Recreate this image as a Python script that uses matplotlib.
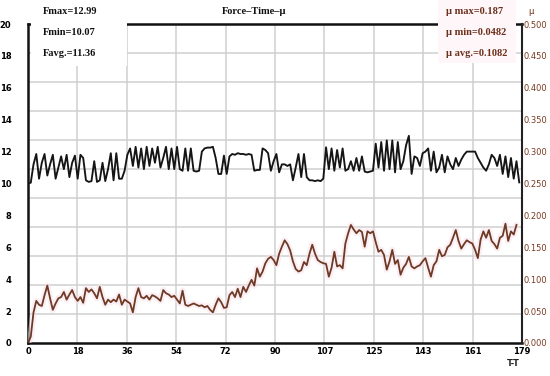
import matplotlib
matplotlib.use('Agg')
import matplotlib.pyplot as plt
from matplotlib.patches import Rectangle
import numpy as np

# ---------------- data ----------------
force = [
    10.0, 10.05, 11.2, 11.85, 10.3, 11.3, 11.85, 10.5, 11.2, 11.8,
    10.3, 11.0, 11.7, 10.9, 11.8, 10.4, 11.3, 11.75, 10.3, 11.8,
    11.6, 10.2, 10.1, 10.15, 11.4, 10.1, 10.2, 11.3, 10.15, 10.9,
    11.9, 10.2, 11.9, 10.3, 10.3, 10.8, 11.8, 12.2, 11.1, 12.3,
    11.0, 12.2, 10.9, 12.3, 11.1, 12.2, 11.3, 12.3, 11.0, 11.6,
    12.3, 10.9, 12.2, 10.9, 12.3, 10.9, 10.8, 12.2, 10.8, 12.2,
    10.8, 10.75, 10.8, 12.0, 12.2, 12.25, 12.25, 12.3, 11.6, 10.6,
    10.6, 11.75, 10.6, 11.7, 11.85, 11.8, 11.9, 11.85, 11.85, 11.8,
    11.85, 11.8, 10.8, 10.85, 10.85, 12.2, 12.1, 11.9, 10.8, 11.4,
    11.85, 10.7, 11.2, 11.2, 11.1, 11.2, 10.2, 11.0, 11.85, 10.4,
    11.85, 10.4, 10.2, 10.2, 10.15, 10.2, 10.15, 10.3, 12.27, 10.9,
    12.2, 10.8, 12.1, 11.0, 12.2, 10.8, 10.9, 11.4, 10.8, 11.6,
    10.8, 11.7, 10.75, 10.7, 10.75, 10.8, 12.5, 11.0, 12.6, 10.8,
    12.7, 10.9, 12.7, 10.7, 12.6, 10.9, 11.4, 12.4, 12.99, 10.6,
    11.7, 11.6, 11.1, 11.9, 12.0, 12.2, 10.8, 12.0, 10.7, 11.0,
    11.8, 10.7, 11.7, 11.2, 10.9, 11.6, 11.1, 11.5, 11.8, 12.0,
    12.0, 12.0, 12.0, 11.6, 11.3, 11.0, 10.8, 11.2, 11.8, 11.6,
    11.1, 11.8, 10.6, 11.7, 10.4, 11.6, 10.3, 11.4, 10.07,
]
force_time = list(range(len(force)))

mu = [
    0.000, 0.010, 0.048, 0.066, 0.060, 0.058, 0.075, 0.090, 0.070, 0.052,
    0.062, 0.070, 0.072, 0.080, 0.068, 0.076, 0.083, 0.072, 0.066, 0.072,
    0.063, 0.086, 0.080, 0.084, 0.078, 0.070, 0.088, 0.072, 0.060, 0.068,
    0.064, 0.068, 0.065, 0.076, 0.060, 0.068, 0.065, 0.062, 0.048, 0.072,
    0.086, 0.072, 0.070, 0.074, 0.068, 0.075, 0.073, 0.070, 0.066, 0.083,
    0.078, 0.076, 0.072, 0.074, 0.068, 0.062, 0.082, 0.060, 0.058, 0.060,
    0.062, 0.060, 0.058, 0.059, 0.056, 0.058, 0.052, 0.048, 0.060, 0.070,
    0.064, 0.055, 0.056, 0.075, 0.080, 0.072, 0.085, 0.072, 0.088, 0.080,
    0.090, 0.099, 0.090, 0.117, 0.104, 0.112, 0.125, 0.132, 0.135, 0.130,
    0.122, 0.140, 0.151, 0.161, 0.155, 0.145, 0.128, 0.116, 0.112, 0.114,
    0.127, 0.122, 0.140, 0.154, 0.140, 0.130, 0.127, 0.125, 0.124, 0.104,
    0.118, 0.143, 0.120, 0.122, 0.117, 0.156, 0.172, 0.185, 0.178, 0.172,
    0.177, 0.174, 0.151, 0.175, 0.172, 0.175, 0.158, 0.143, 0.146, 0.138,
    0.115, 0.128, 0.146, 0.124, 0.130, 0.107, 0.118, 0.124, 0.135, 0.120,
    0.117, 0.120, 0.122, 0.128, 0.133, 0.118, 0.104, 0.122, 0.128, 0.146,
    0.136, 0.138, 0.150, 0.154, 0.165, 0.177, 0.160, 0.148, 0.155, 0.161,
    0.158, 0.156, 0.146, 0.133, 0.162, 0.175, 0.165, 0.177, 0.160, 0.155,
    0.148, 0.165, 0.168, 0.187, 0.160, 0.175, 0.170, 0.185,
]
mu_time = list(range(len(mu)))

x_tick_labels = ['0', '18', '36', '54', '72', '90', '107', '125', '143', '161', '179']
force_ticks = [0, 2, 4, 6, 8, 10, 12, 14, 16, 18, 20]
mu_ticks = [0.0, 0.05, 0.10, 0.15, 0.20, 0.25, 0.30, 0.35, 0.40, 0.45, 0.50]
mu_tick_labels = ['0.000', '0.050', '0.100', '0.150', '0.200', '0.250',
                  '0.300', '0.350', '0.400', '0.450', '0.500']
force_stats = ['Fmax=12.99', 'Fmin=10.07', 'Favg.=11.36']
mu_stats = ['\u03bc max=0.187', '\u03bc min=0.0482', '\u03bc avg.=0.1082']
title = 'Force\u2013Time\u2013\u03bc'
x_label = 'T-T'

# ---------------- figure ----------------
W, H = 550, 376
fig = plt.figure(figsize=(W / 100, H / 100), dpi=100)
fig.patch.set_facecolor('white')

def fx(px):
    return px / W

def fy(py):
    return 1 - py / H

L, R, T, B = 28, 522, 24, 343
ax = fig.add_axes([fx(L), fy(B), (R - L) / W, (B - T) / H])
ax.set_xlim(0, 179)
ax.set_ylim(0, 20)

grid_c = '#cfcfcf'
ax.set_xticks(np.linspace(0, 179, 11))
ax.set_xticklabels(x_tick_labels)
ax.set_yticks(force_ticks)
ax.set_yticks(np.linspace(0, 20, 12), minor=True)
ax.grid(axis='x', which='major', color=grid_c, lw=1.1)
ax.grid(axis='y', which='minor', color=grid_c, lw=1.1)
ax.set_axisbelow(True)
ax.tick_params(axis='both', which='both', length=0)
ax.tick_params(axis='y', pad=12, labelsize=6)
ax.tick_params(axis='x', pad=3, labelsize=6)
for lab in ax.get_xticklabels() + ax.get_yticklabels():
    lab.set_fontweight('bold')

for s in ['left', 'bottom', 'top']:
    ax.spines[s].set_linewidth(1.8)
    ax.spines[s].set_color('#111111')
ax.spines['right'].set_visible(False)

ax.plot(force_time, force, color='#151515', lw=1.35, zorder=3)

ax2 = ax.twinx()
ax2.set_ylim(0, 0.5)
ax2.set_yticks(mu_ticks)
ax2.set_yticklabels(mu_tick_labels)
ax2.tick_params(axis='y', length=0, pad=1, labelsize=6, labelcolor='#7a3a22')
for s in ['left', 'bottom', 'top']:
    ax2.spines[s].set_visible(False)
ax2.spines['right'].set_linewidth(1.5)
ax2.spines['right'].set_color('#222222')
ax2.plot(mu_time, mu, color='#f8e2ea', lw=4.5, alpha=0.55, zorder=2, solid_capstyle='round')
ax2.plot(mu_time, mu, color='#6e3a26', lw=1.3, zorder=3)

# boxes covering the top corners (text panels)
fig.patches.append(Rectangle((fx(31), fy(66)), fx(127 - 31), 66 / H,
                             transform=fig.transFigure, facecolor='white',
                             edgecolor='none', zorder=1))
fig.patches.append(Rectangle((fx(438), fy(63)), fx(516 - 438), 63 / H,
                             transform=fig.transFigure, facecolor='#fff6f9',
                             edgecolor='none', zorder=1))

serif = ['Liberation Serif', 'DejaVu Serif']
for i, s in enumerate(force_stats):
    fig.text(fx(43), fy(12 + 20.5 * i), s, ha='left', va='center', fontsize=7.5,
             fontweight='bold', family=serif, color='#111111', zorder=5)
for i, s in enumerate(mu_stats):
    fig.text(fx(446), fy(12 + 20.5 * i), s, ha='left', va='center', fontsize=7.5,
             fontweight='bold', family=serif, color='#6b2f1a', zorder=5)

fig.text(fx(254), fy(11), title, ha='center', va='center', fontsize=7.5,
         fontweight='bold', family=serif, color='#111111', zorder=5)
fig.text(fx(531), fy(12), '\u03bc', ha='center', va='center', fontsize=6,
         color='#6b2f1a', zorder=5)
fig.text(fx(513), fy(364), x_label, ha='center', va='center', fontsize=6,
         fontweight='bold', color='#222222', zorder=5)

fig.savefig('out.png', dpi=100)
